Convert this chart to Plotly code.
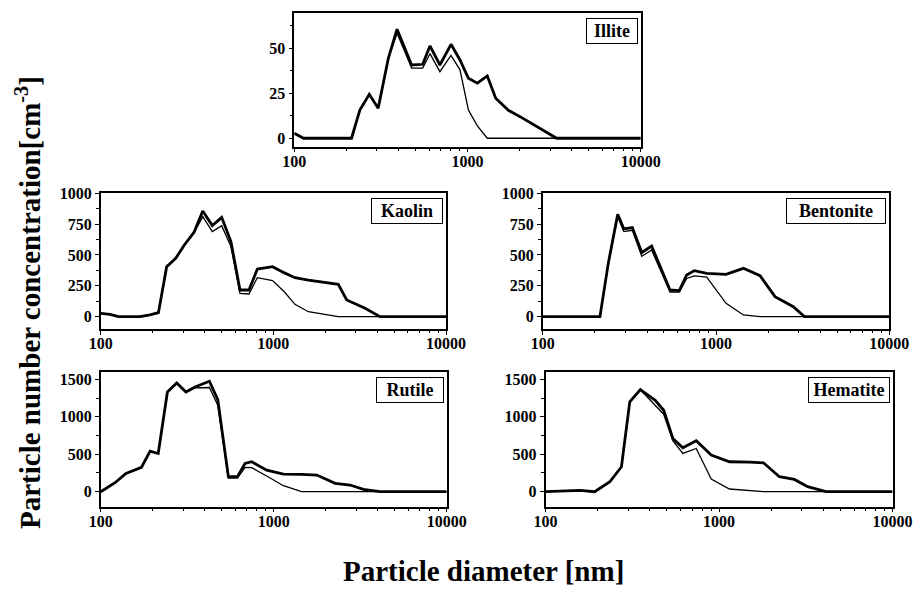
import plotly.graph_objects as go

# ---------------- data ----------------
illite_d = [100, 113, 214, 239, 271, 305, 349, 392, 476, 551, 607, 693, 803, 905, 1012, 1140, 1301, 1455, 1722, 2011, 3272, 10000]
illite_thick = [2.8, 0, 0, 15.7, 24.4, 16.7, 44.4, 60.6, 40.7, 41.1, 51.3, 40.7, 52.2, 43.5, 33.3, 30.6, 34.6, 22.2, 15.5, 12, 0, 0]
illite_thin = [2.8, 0, 0, 15.7, 24.4, 16.7, 44.4, 58.3, 39, 39, 47, 37, 46, 38, 15.7, 6.9, 0, 0, 0, 0, 0, 0]

kaolin_d = [100, 113, 127, 169, 193, 216, 241, 272, 305, 347, 390, 443, 502, 568, 641, 722, 808, 990, 1160, 1334, 1595, 2377, 2660, 3398, 4150, 10000]
kaolin_thick = [27, 19, 0, 0, 14, 32, 405, 473, 581, 684, 857, 738, 805, 608, 216, 216, 386, 405, 355, 316, 297, 262, 135, 68, 0, 0]
kaolin_thin = [27, 19, 0, 0, 14, 32, 400, 470, 575, 680, 811, 689, 738, 568, 189, 184, 316, 292, 200, 100, 40, 0, 0, 0, 0, 0]

bentonite_d = [100, 214, 239, 271, 294, 329, 373, 425, 543, 614, 677, 750, 884, 1143, 1439, 1795, 2190, 2793, 3236, 10000]
bentonite_thick = [0, 0, 432, 830, 711, 722, 520, 573, 216, 211, 338, 373, 351, 343, 392, 332, 162, 81, 0, 0]
bentonite_thin = [0, 0, 430, 810, 690, 700, 490, 540, 200, 200, 310, 330, 320, 108, 14, 0, 0, 0, 0, 0]

rutile_d = [100, 121, 140, 172, 193, 215, 243, 275, 311, 351, 425, 475, 547, 617, 683, 746, 911, 1138, 1450, 1775, 2265, 2763, 3300, 4120, 10000]
rutile_thick = [0, 120, 244, 324, 541, 510, 1331, 1451, 1331, 1398, 1474, 1229, 200, 200, 377, 400, 288, 235, 230, 222, 111, 89, 31, 0, 0]
rutile_thin = [0, 120, 244, 324, 541, 510, 1331, 1451, 1331, 1385, 1390, 1154, 180, 180, 324, 320, 209, 80, 0, 0, 0, 0, 0, 0, 0]

hematite_d = [100, 121, 138, 158, 192, 235, 274, 306, 352, 429, 480, 542, 619, 739, 902, 1149, 1500, 1804, 2229, 2718, 3243, 4138, 10000]
hematite_thick = [0, 9, 9, 18, 0, 133, 333, 1198, 1363, 1220, 1087, 710, 586, 679, 488, 400, 395, 386, 200, 164, 67, 0, 0]
hematite_thin = [0, 9, 9, 18, 0, 133, 333, 1198, 1360, 1145, 1034, 680, 510, 577, 169, 36, 15, 0, 0, 0, 0, 0, 0]

names = ["Illite", "Kaolin", "Bentonite", "Rutile", "Hematite"]
x_tickvals = [100, 1000, 10000]
x_ticktext = ["100", "1000", "10000"]
x_minor = [200, 300, 400, 500, 600, 700, 800, 900, 2000, 3000, 4000, 5000, 6000, 7000, 8000, 9000]

y_ticks = {
    "Illite": [0, 25, 50],
    "Kaolin": [0, 250, 500, 750, 1000],
    "Bentonite": [0, 250, 500, 750, 1000],
    "Rutile": [0, 500, 1000, 1500],
    "Hematite": [0, 500, 1000, 1500],
}
y_minor = {
    "Illite": [12.5, 37.5, 62.5],
    "Kaolin": [125, 375, 625, 875],
    "Bentonite": [125, 375, 625, 875],
    "Rutile": [250, 750, 1250],
    "Hematite": [250, 750, 1250],
}
y_ranges = {
    "Illite": [-4.7, 69.6],
    "Kaolin": [-100, 1000],
    "Bentonite": [-100, 1000],
    "Rutile": [-200, 1593],
    "Hematite": [-200, 1593],
}
series = {
    "Illite": (illite_d, illite_thick, illite_thin),
    "Kaolin": (kaolin_d, kaolin_thick, kaolin_thin),
    "Bentonite": (bentonite_d, bentonite_thick, bentonite_thin),
    "Rutile": (rutile_d, rutile_thick, rutile_thin),
    "Hematite": (hematite_d, hematite_thick, hematite_thin),
}

# ---------------- layout geometry (pixels) ----------------
W, H = 914, 589
panel_px = {
    "Illite": (294.3, 640.7, 13, 146.7),
    "Kaolin": (100.7, 446.0, 193.3, 329.0),
    "Bentonite": (542.7, 889.3, 193.3, 329.0),
    "Rutile": (100.7, 446.7, 372.3, 506.7),
    "Hematite": (545.5, 892.5, 372.3, 506.7),
}
label_width = {"Illite": 46, "Kaolin": 66, "Bentonite": 94, "Rutile": 62, "Hematite": 76}

FONT = "Liberation Serif"
tickfont = dict(family=FONT, size=16, color="black", weight="bold")

fig = go.Figure()
layout = dict(
    width=W, height=H, autosize=False,
    margin=dict(l=0, r=0, t=0, b=0, pad=0, autoexpand=False),
    paper_bgcolor="white", plot_bgcolor="white",
    showlegend=False,
    annotations=[],
)

for i, nm in enumerate(names):
    k = "" if i == 0 else str(i + 1)
    xa, ya = "x" + k, "y" + k
    d, thick, thin = series[nm]
    fig.add_trace(go.Scatter(x=d, y=thin, mode="lines", xaxis=xa, yaxis=ya,
                             line=dict(color="black", width=1.3), hoverinfo="skip"))
    fig.add_trace(go.Scatter(x=d, y=thick, mode="lines", xaxis=xa, yaxis=ya,
                             line=dict(color="black", width=2.8), hoverinfo="skip"))
    x0, x1, y0, y1 = panel_px[nm]
    layout["xaxis" + k] = dict(
        type="log", range=[2, 4], domain=[x0 / W, x1 / W], anchor=ya, automargin=False,
        tickmode="array", tickvals=x_tickvals, ticktext=x_ticktext,
        ticks="outside", ticklen=4, tickwidth=1.3, tickcolor="black",
        ticklabelstandoff=-5,
        minor=dict(tickmode="array", tickvals=x_minor, ticks="outside", ticklen=2.5,
                   tickwidth=1.1, tickcolor="black", showgrid=False),
        showline=True, linecolor="black", linewidth=1.5, mirror=True,
        showgrid=False, zeroline=False, tickfont=tickfont,
    )
    layout["yaxis" + k] = dict(
        range=y_ranges[nm], domain=[1 - y1 / H, 1 - y0 / H], anchor=xa, automargin=False,
        tickmode="array", tickvals=y_ticks[nm],
        ticks="outside", ticklen=4, tickwidth=1.3, tickcolor="black",
        minor=dict(tickmode="array", tickvals=y_minor[nm], ticks="outside", ticklen=2.5,
                   tickwidth=1.1, tickcolor="black", showgrid=False),
        showline=True, linecolor="black", linewidth=1.5, mirror=True,
        showgrid=False, zeroline=False, tickfont=tickfont,
    )
    layout["annotations"].append(dict(
        text=nm, xref=xa + " domain", yref=ya + " domain",
        x=1 - 3 / (x1 - x0), y=1 - 5 / (y1 - y0), xanchor="right", yanchor="top",
        showarrow=False, font=dict(family=FONT, size=18, color="black", weight="bold"),
        bordercolor="black", borderwidth=1, borderpad=2, bgcolor="white",
        width=label_width[nm], align="center",
    ))

layout["annotations"].append(dict(
    text="Particle diameter [nm]", xref="paper", yref="paper",
    x=483 / W, y=1 - 571 / H, xanchor="center", yanchor="middle", showarrow=False,
    font=dict(family=FONT, size=29, color="black", weight="bold"),
))
layout["annotations"].append(dict(
    text="Particle number concentration[cm<sup>-3</sup>]", xref="paper", yref="paper",
    x=28 / W, y=1 - 303 / H, xanchor="center", yanchor="middle", showarrow=False,
    textangle=-90, font=dict(family=FONT, size=29, color="black", weight="bold"),
))

fig.update_layout(**layout)
fig.write_html("out.html", config={"displayModeBar": False, "responsive": False},
               post_script="document.body.style.margin='0';document.body.style.overflow='hidden';")
